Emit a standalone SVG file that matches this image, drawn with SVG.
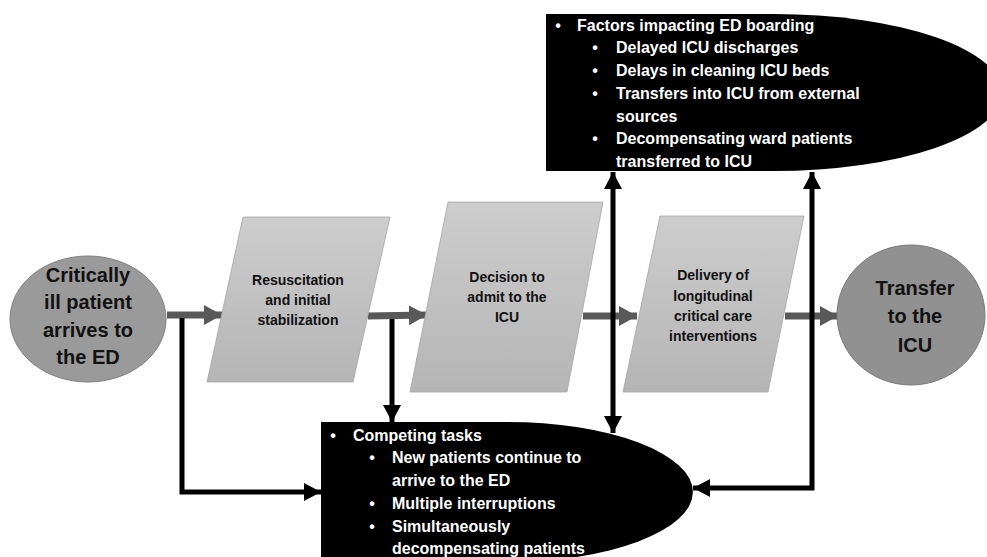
<svg xmlns="http://www.w3.org/2000/svg" width="987" height="557" viewBox="0 0 987 557">
<defs>
<linearGradient id="pg" x1="0" y1="0" x2="0" y2="1">
<stop offset="0" stop-color="#cdcdcd"/>
<stop offset="1" stop-color="#b5b5b5"/>
</linearGradient>
<marker id="ga" markerUnits="userSpaceOnUse" markerWidth="20" markerHeight="22" refX="18" refY="10" orient="auto">
<path d="M0,0 L18,10 L0,20 Z" fill="#595959"/>
</marker>
<marker id="ba" markerUnits="userSpaceOnUse" markerWidth="19" markerHeight="20" refX="17" refY="9" orient="auto-start-reverse">
<path d="M0,0 L17,9 L0,18 Z" fill="#000"/>
</marker>
</defs>
<style>
.para{fill:url(#pg);stroke:#a6a6a6;stroke-width:0.8}
.pt{font-family:"Liberation Sans",Arial,sans-serif;font-weight:bold;font-size:14px;fill:#111;text-anchor:middle}
.ct{font-family:"Liberation Sans",Arial,sans-serif;font-weight:bold;font-size:20px;fill:#111;text-anchor:middle}
.wt{font-family:"Liberation Sans",Arial,sans-serif;font-weight:bold;font-size:16px;fill:#fff}
.bul{text-anchor:middle}
.gl{stroke:#595959;stroke-width:7;fill:none;marker-end:url(#ga)}
.bl{stroke:#000;stroke-width:5;fill:none}
</style>

<g id="connectors">
<line class="gl" x1="167" y1="315" x2="222" y2="315"/>
<line class="gl" x1="368" y1="316" x2="427" y2="315"/>
<line class="gl" x1="583" y1="316" x2="637" y2="316"/>
<line class="gl" x1="785" y1="316" x2="838" y2="316"/>
<polyline class="bl" points="182,318 182,492 321,492" marker-end="url(#ba)"/>
<line class="bl" x1="392" y1="319" x2="392" y2="422" marker-end="url(#ba)"/>
<line class="bl" x1="613" y1="172" x2="613" y2="433" marker-start="url(#ba)" marker-end="url(#ba)"/>
<polyline class="bl" points="693,488 812,488 812,172" marker-start="url(#ba)" marker-end="url(#ba)"/>
</g>

<g id="node-arrive">
<ellipse cx="88" cy="319" rx="78" ry="63" fill="#9a9a9a" stroke="#808080" stroke-width="1"/>
<text class="ct" x="88" y="282">Critically</text>
<text class="ct" x="88" y="309">ill patient</text>
<text class="ct" x="88" y="337">arrives to</text>
<text class="ct" x="88" y="364">the ED</text>
</g>

<g id="node-resus">
<polygon class="para" points="243,217 390,217 353,382 207,382"/>
<text class="pt" x="298" y="285">Resuscitation</text>
<text class="pt" x="298" y="305">and initial</text>
<text class="pt" x="298" y="325">stabilization</text>
</g>

<g id="node-decision">
<polygon class="para" points="448,202 603,202 567,392 410,392"/>
<text class="pt" x="507" y="282">Decision to</text>
<text class="pt" x="507" y="302">admit to the</text>
<text class="pt" x="507" y="322">ICU</text>
</g>

<g id="node-delivery">
<polygon class="para" points="660,216 804,216 768,392 623,392"/>
<text class="pt" x="713" y="280">Delivery of</text>
<text class="pt" x="713" y="301">longitudinal</text>
<text class="pt" x="713" y="321">critical care</text>
<text class="pt" x="713" y="341">interventions</text>
</g>

<g id="node-transfer">
<ellipse cx="911" cy="315" rx="74" ry="70" fill="#919191" stroke="#7a7a7a" stroke-width="1"/>
<text class="ct" x="915" y="295">Transfer</text>
<text class="ct" x="915" y="323">to the</text>
<text class="ct" x="915" y="352">ICU</text>
</g>

<g id="node-factors">
<path d="M546,14 L774,14 A228,78.5 0 0 1 774,171 L546,171 Z" fill="#000"/>
<text class="wt bul" x="558" y="30.7">•</text>
<text class="wt" x="577" y="30.7">Factors impacting ED boarding</text>
<text class="wt bul" x="595" y="53.4">•</text>
<text class="wt" x="616" y="53.4">Delayed ICU discharges</text>
<text class="wt bul" x="595" y="76.1">•</text>
<text class="wt" x="616" y="76.1">Delays in cleaning ICU beds</text>
<text class="wt bul" x="595" y="98.8">•</text>
<text class="wt" x="616" y="98.8">Transfers into ICU from external</text>
<text class="wt" x="616" y="121.5">sources</text>
<text class="wt bul" x="595" y="144.2">•</text>
<text class="wt" x="616" y="144.2">Decompensating ward patients</text>
<text class="wt" x="616" y="166.9">transferred to ICU</text>
</g>

<g id="node-competing">
<path d="M321,422 L507,422 A186,70 0 0 1 507,562 L321,562 Z" fill="#000"/>
<text class="wt bul" x="333" y="440.7">•</text>
<text class="wt" x="353" y="440.7">Competing tasks</text>
<text class="wt bul" x="372" y="463.4">•</text>
<text class="wt" x="392" y="463.4">New patients continue to</text>
<text class="wt" x="392" y="486.1">arrive to the ED</text>
<text class="wt bul" x="372" y="508.8">•</text>
<text class="wt" x="392" y="508.8">Multiple interruptions</text>
<text class="wt bul" x="372" y="531.5">•</text>
<text class="wt" x="392" y="531.5">Simultaneously</text>
<text class="wt" x="392" y="554.2">decompensating patients</text>
</g>
</svg>
